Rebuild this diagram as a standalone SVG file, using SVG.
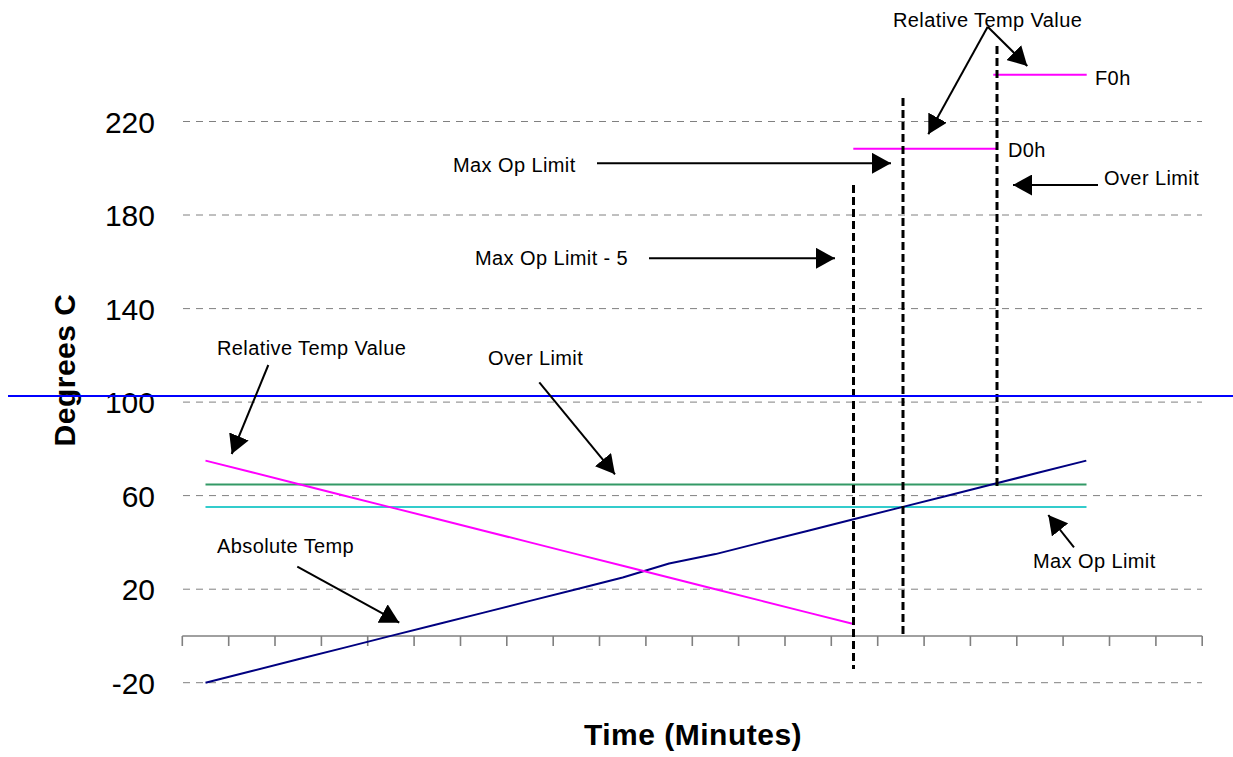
<svg xmlns="http://www.w3.org/2000/svg" width="1233" height="757" viewBox="0 0 1233 757">
  <style>
    .grid { stroke: #808080; stroke-width: 1; stroke-dasharray: 7 6; fill: none; }
    .axis { stroke: #808080; stroke-width: 1.6; fill: none; }
    .series { fill: none; stroke-width: 2; stroke-linejoin: round; }
    .vdash { stroke: #000; stroke-width: 3; stroke-dasharray: 8 4; fill: none; }
    .arrow { stroke: #000; stroke-width: 2; fill: none; marker-end: url(#head); }
    .tick { font-family: "Liberation Sans", Arial, sans-serif; font-size: 30px; fill: #000; text-anchor: end; }
    .title { font-family: "Liberation Sans", Arial, sans-serif; font-size: 30px; font-weight: bold; fill: #000; letter-spacing: 0.5px; }
    .note { font-family: "Liberation Sans", Arial, sans-serif; font-size: 20px; fill: #000; letter-spacing: 0.4px; }
  </style>
  <defs>
    <marker id="head" viewBox="0 0 19 21" refX="19" refY="10.5" markerWidth="19" markerHeight="21" markerUnits="userSpaceOnUse" orient="auto">
      <path d="M0,0 L19,10.5 L0,21 Z" fill="#000"/>
    </marker>
  </defs>

  <rect width="1233" height="757" fill="#fff"/>

  <!-- horizontal gridlines: 220 ... -20 -->
  <g id="grid">
    <line class="grid" x1="183" y1="121.5" x2="1202" y2="121.5"/>
    <line class="grid" x1="183" y1="215" x2="1202" y2="215"/>
    <line class="grid" x1="183" y1="308.6" x2="1202" y2="308.6"/>
    <line class="grid" x1="183" y1="402.1" x2="1202" y2="402.1"/>
    <line class="grid" x1="183" y1="495.6" x2="1202" y2="495.6"/>
    <line class="grid" x1="183" y1="589.2" x2="1202" y2="589.2"/>
    <line class="grid" x1="183" y1="682.7" x2="1202" y2="682.7"/>
  </g>

  <!-- category axis at 0 with tick marks -->
  <g id="x-axis">
    <line class="axis" x1="182.3" y1="636" x2="1202.2" y2="636"/>
    <path class="axis" d="M182.3,636V646 M228.7,636V646 M275,636V646 M321.4,636V646 M367.7,636V646 M414.1,636V646 M460.5,636V646 M506.8,636V646 M553.2,636V646 M599.5,636V646 M645.9,636V646 M692.3,636V646 M738.6,636V646 M785,636V646 M831.3,636V646 M877.7,636V646 M924.1,636V646 M970.4,636V646 M1016.8,636V646 M1063.1,636V646 M1109.5,636V646 M1155.9,636V646 M1202.2,636V646"/>
  </g>

  <g id="y-labels">
    <text class="tick" x="155" y="132.5">220</text>
    <text class="tick" x="155" y="226">180</text>
    <text class="tick" x="155" y="319.6">140</text>
    <text class="tick" x="155" y="413.1">100</text>
    <text class="tick" x="155" y="506.6">60</text>
    <text class="tick" x="155" y="600.2">20</text>
    <text class="tick" x="155" y="693.7">-20</text>
  </g>

  <g id="axis-titles">
    <text class="title" transform="translate(75,370) rotate(-90)" text-anchor="middle">Degrees C</text>
    <text class="title" x="693" y="745" text-anchor="middle">Time (Minutes)</text>
  </g>

  <!-- data series -->
  <g id="series-over-limit">
    <line class="series" stroke="#339966" x1="205.5" y1="484.5" x2="1086.5" y2="484.5"/>
  </g>
  <g id="series-max-op-limit">
    <line class="series" stroke="#33CCCC" x1="205.5" y1="507" x2="1086.5" y2="507"/>
  </g>
  <g id="series-absolute-temp">
    <polyline class="series" stroke="#000080" points="205.5,682.7 251.9,671 298.2,659.3 344.6,647.6 390.9,635.9 437.3,624.3 483.7,612.6 530,600.9 576.4,589.2 622.7,577.5 669.1,563.5 715.5,554.1 761.8,542.4 808.2,530.7 854.5,519 900.9,507.4 947.3,495.7 993.6,484 1040,472.3 1086.3,460.6"/>
  </g>
  <g id="series-relative-temp">
    <polyline class="series" stroke="#FF00FF" points="205.5,460.6 251.9,472.3 298.2,484 344.6,495.7 390.9,507.4 437.3,519 483.7,530.7 530,542.4 576.4,554.1 622.7,565.8 669.1,577.5 715.5,589.2 761.8,600.9 808.2,612.6 854.5,624.3"/>
  </g>
  <g id="level-d0h">
    <line class="series" stroke="#FF00FF" x1="853.3" y1="148.7" x2="996.7" y2="148.7"/>
  </g>
  <g id="level-f0h">
    <line class="series" stroke="#FF00FF" x1="993.3" y1="74.7" x2="1086.7" y2="74.7"/>
  </g>

  <!-- threshold markers -->
  <g id="markers">
    <line class="vdash" x1="853.5" y1="185" x2="853.5" y2="669"/>
    <line class="vdash" x1="903" y1="98" x2="903" y2="636"/>
    <line class="vdash" x1="997" y1="46" x2="997" y2="488"/>
  </g>

  <g id="reference-line">
    <line x1="8" y1="396" x2="1233" y2="396" stroke="#0000FF" stroke-width="2"/>
  </g>

  <!-- callout arrows -->
  <g id="connectors">
    <line class="arrow" x1="987.7" y1="26.7" x2="928.3" y2="134.3"/>
    <line class="arrow" x1="987.7" y1="26.7" x2="1027.3" y2="66"/>
    <line class="arrow" x1="597" y1="163.3" x2="891" y2="163.3"/>
    <line class="arrow" x1="649" y1="258.3" x2="835" y2="258.3"/>
    <line class="arrow" x1="1098" y1="185" x2="1013" y2="185"/>
    <line class="arrow" x1="268.3" y1="365" x2="231.7" y2="454"/>
    <line class="arrow" x1="539.3" y1="382.3" x2="615" y2="474.3"/>
    <line class="arrow" x1="297.3" y1="566.7" x2="399.3" y2="622.7"/>
    <line class="arrow" x1="1074" y1="547.3" x2="1048.3" y2="515"/>
  </g>

  <!-- callout labels -->
  <g id="label-relative-temp-top"><text class="note" x="893" y="27">Relative Temp Value</text></g>
  <g id="label-f0h"><text class="note" x="1095" y="85">F0h</text></g>
  <g id="label-d0h"><text class="note" x="1008" y="157">D0h</text></g>
  <g id="label-over-limit-right"><text class="note" x="1104" y="185">Over Limit</text></g>
  <g id="label-max-op-limit-top"><text class="note" x="453" y="172">Max Op Limit</text></g>
  <g id="label-max-op-limit-5"><text class="note" x="475" y="265">Max Op Limit - 5</text></g>
  <g id="label-relative-temp-left"><text class="note" x="217" y="355">Relative Temp Value</text></g>
  <g id="label-over-limit-mid"><text class="note" x="488" y="365">Over Limit</text></g>
  <g id="label-absolute-temp"><text class="note" x="217" y="553">Absolute Temp</text></g>
  <g id="label-max-op-limit-low"><text class="note" x="1033" y="568">Max Op Limit</text></g>
</svg>
